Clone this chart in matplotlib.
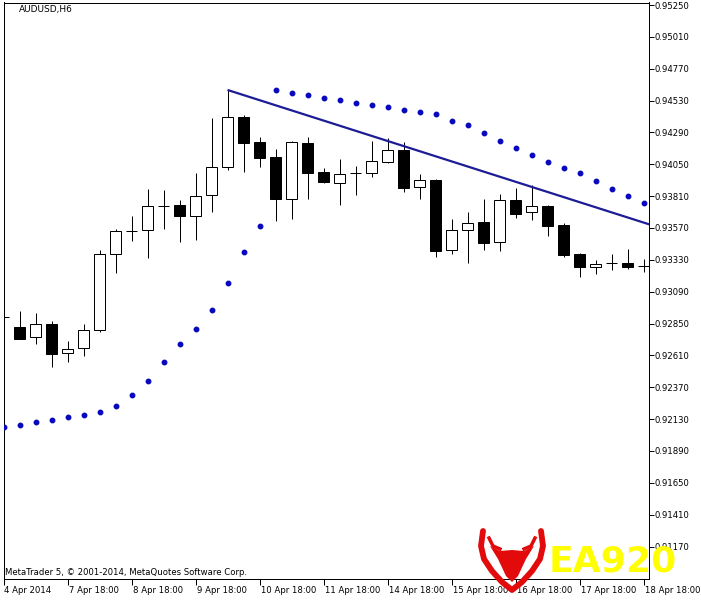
import matplotlib
matplotlib.use('Agg')
import matplotlib.pyplot as plt
import matplotlib.patches as mpatches
from matplotlib.transforms import ScaledTranslation

plt.rcParams['font.family'] = ['DejaVu Sans']

# ---------------- data ----------------
symbol_title = "AUDUSD,H6"
copyright_text = "MetaTrader 5, \u00a9 2001-2014, MetaQuotes Software Corp."
watermark = "EA920"

# H6 candles, index 0 = 4 Apr 2014 18:00
opens = [0.92902, 0.92821, 0.92746, 0.92844, 0.92625, 0.92663, 0.92799, 0.93371,
         0.93550, 0.93552, 0.93739, 0.93741, 0.93658, 0.93816, 0.94027, 0.94406,
         0.94218, 0.94105, 0.93790, 0.94210, 0.93992, 0.93906, 0.93981, 0.93982,
         0.94069, 0.94155, 0.93876, 0.93929, 0.93402, 0.93552, 0.93613, 0.93462,
         0.93778, 0.93688, 0.93733, 0.93590, 0.93374, 0.93274, 0.93303, 0.93304,
         0.93287]
highs = [0.92903, 0.92946, 0.92929, 0.92869, 0.92718, 0.92844, 0.93404, 0.93560,
         0.93660, 0.93864, 0.93856, 0.93778, 0.93984, 0.94399, 0.94610, 0.94423,
         0.94258, 0.94165, 0.94225, 0.94255, 0.94020, 0.94090, 0.94037, 0.94225,
         0.94246, 0.94220, 0.93977, 0.93937, 0.93637, 0.93690, 0.93788, 0.93824,
         0.93869, 0.93894, 0.93743, 0.93605, 0.93384, 0.93326, 0.93374, 0.93411,
         0.93336]
lows = [0.92899, 0.92731, 0.92698, 0.92524, 0.92562, 0.92607, 0.92788, 0.93228,
        0.93474, 0.93341, 0.93560, 0.93466, 0.93477, 0.93693, 0.94004, 0.93994,
        0.94032, 0.93625, 0.93635, 0.93790, 0.93911, 0.93745, 0.93821, 0.93956,
        0.94062, 0.93843, 0.93790, 0.93353, 0.93376, 0.93308, 0.93406, 0.93399,
        0.93647, 0.93628, 0.93512, 0.93353, 0.93198, 0.93225, 0.93251, 0.93258,
        0.93238]
closes = [0.92901, 0.92735, 0.92844, 0.92622, 0.92656, 0.92799, 0.93371, 0.93545,
          0.93548, 0.93733, 0.93737, 0.93658, 0.93809, 0.94027, 0.94406, 0.94212,
          0.94099, 0.93790, 0.94218, 0.93986, 0.93919, 0.93977, 0.93983, 0.94072,
          0.94155, 0.93873, 0.93929, 0.93399, 0.93552, 0.93605, 0.93459, 0.93778,
          0.93677, 0.93733, 0.93587, 0.93368, 0.93274, 0.93301, 0.93305, 0.93274,
          0.93285]

# Parabolic SAR, one value per candle
sar = [0.92068, 0.92083, 0.92106, 0.92121, 0.92143, 0.92158, 0.92181, 0.92226,
       0.92309, 0.92414, 0.92558, 0.92693, 0.92806, 0.92950, 0.93153, 0.93386,
       0.93582, 0.94607, 0.94585, 0.94570, 0.94547, 0.94532, 0.94509, 0.94494,
       0.94479, 0.94457, 0.94441, 0.94426, 0.94376, 0.94344, 0.94283, 0.94223,
       0.94170, 0.94117, 0.94065, 0.94020, 0.93982, 0.93922, 0.93861, 0.93809,
       0.93756]

# trend line (ray to the right)
trend_x = [14, 40]
trend_y = [0.94610, 0.93611]

price_ticks = [0.95250, 0.95010, 0.94770, 0.94530, 0.94290, 0.94050, 0.93810,
               0.93570, 0.93330, 0.93090, 0.92850, 0.92610, 0.92370, 0.92130,
               0.91890, 0.91650, 0.91410, 0.91170]
time_tick_idx = [0, 4, 8, 12, 16, 20, 24, 28, 32, 36, 40]
time_labels = ["4 Apr 2014", "7 Apr 18:00", "8 Apr 18:00", "9 Apr 18:00",
               "10 Apr 18:00", "11 Apr 18:00", "14 Apr 18:00", "15 Apr 18:00",
               "16 Apr 18:00", "17 Apr 18:00", "18 Apr 18:00"]

# ---------------- figure ----------------
W, H = 701, 600
fig = plt.figure(figsize=(W / 100, H / 100), dpi=100, facecolor='white')
ax = fig.add_axes([3.5 / W, 21.5 / H, 645 / W, 576 / H])
ax.set_facecolor('white')

LW = 0.72  # one pixel
FS = 6.1
body_w = 0.69
for i in range(len(opens)):
    o, h, l, c = opens[i], highs[i], lows[i], closes[i]
    ax.plot([i, i], [l, h], color='black', lw=LW, zorder=2, solid_capstyle='butt')
    bottom = min(o, c)
    height = abs(c - o)
    face = 'white' if c > o else 'black'
    ax.add_patch(mpatches.Rectangle((i - body_w / 2, bottom), body_w, height,
                                    facecolor=face, edgecolor='black', lw=LW,
                                    zorder=3))

ax.plot(range(len(sar)), sar, linestyle='none', marker='o', ms=3.2,
        color='#0808c0', mec='#0808c0', zorder=4)

slope = (trend_y[1] - trend_y[0]) / (trend_x[1] - trend_x[0])
x_end = 42
ax.plot([trend_x[0], x_end], [trend_y[0], trend_y[0] + slope * (x_end - trend_x[0])],
        color='#1c1c96', lw=1.6, zorder=5, solid_capstyle='butt')

ax.set_xlim(0.0, 40.31)
ax.set_ylim(0.90929, 0.95269)

for s in ax.spines.values():
    s.set_color('black')
    s.set_linewidth(LW)

ax.yaxis.tick_right()
ax.set_yticks(price_ticks)
ax.set_yticklabels([f"{v:.5f}" for v in price_ticks])
ax.tick_params(axis='y', direction='out', length=3.5, width=LW, labelsize=FS,
               pad=1, colors='black')

ax.set_xticks(time_tick_idx)
ax.set_xticklabels(time_labels)
ax.tick_params(axis='x', direction='out', length=4, width=LW, labelsize=FS,
               pad=1.5, colors='black')
offset = ScaledTranslation(1.0 / 100, 0, fig.dpi_scale_trans)
for lbl in ax.get_xticklabels():
    lbl.set_horizontalalignment('left')
    lbl.set_transform(lbl.get_transform() + offset)

fig.text(19 / W, 1 - 5 / H, symbol_title, fontsize=6.5, va='top', ha='left',
         color='black')
fig.text(5 / W, (H - 575) / H, copyright_text, fontsize=FS, va='baseline',
         ha='left', color='black')

# ---------------- watermark logo ----------------
ov = fig.add_axes([0, 0, 1, 1], zorder=10)
ov.set_xlim(0, W)
ov.set_ylim(H, 0)
ov.axis('off')
ov.patch.set_alpha(0)
shield_x = [483, 481, 484, 492, 502, 512, 522, 532, 540, 543, 541]
shield_y = [531, 546, 559, 571, 582, 590, 582, 571, 559, 546, 531]
ov.plot(shield_x, shield_y, color='#e20a0a', lw=4.2, solid_joinstyle='round',
        solid_capstyle='round')
head = mpatches.Polygon([(490, 546), (500, 551), (512, 550), (524, 551), (534, 546),
                         (526, 559), (518, 576), (512, 582), (506, 576), (498, 559)],
                        closed=True, facecolor='#e20a0a', edgecolor='none')
ov.add_patch(head)
ov.plot([489, 493, 500], [538, 546, 549], color='#e20a0a', lw=2.5)
ov.plot([535, 531, 524], [538, 546, 549], color='#e20a0a', lw=2.5)
ov.text(549, 571, watermark, color='#ffff00', fontsize=26, fontweight='bold',
        va='baseline', ha='left')

fig.savefig('out.png', dpi=100, facecolor='white')
